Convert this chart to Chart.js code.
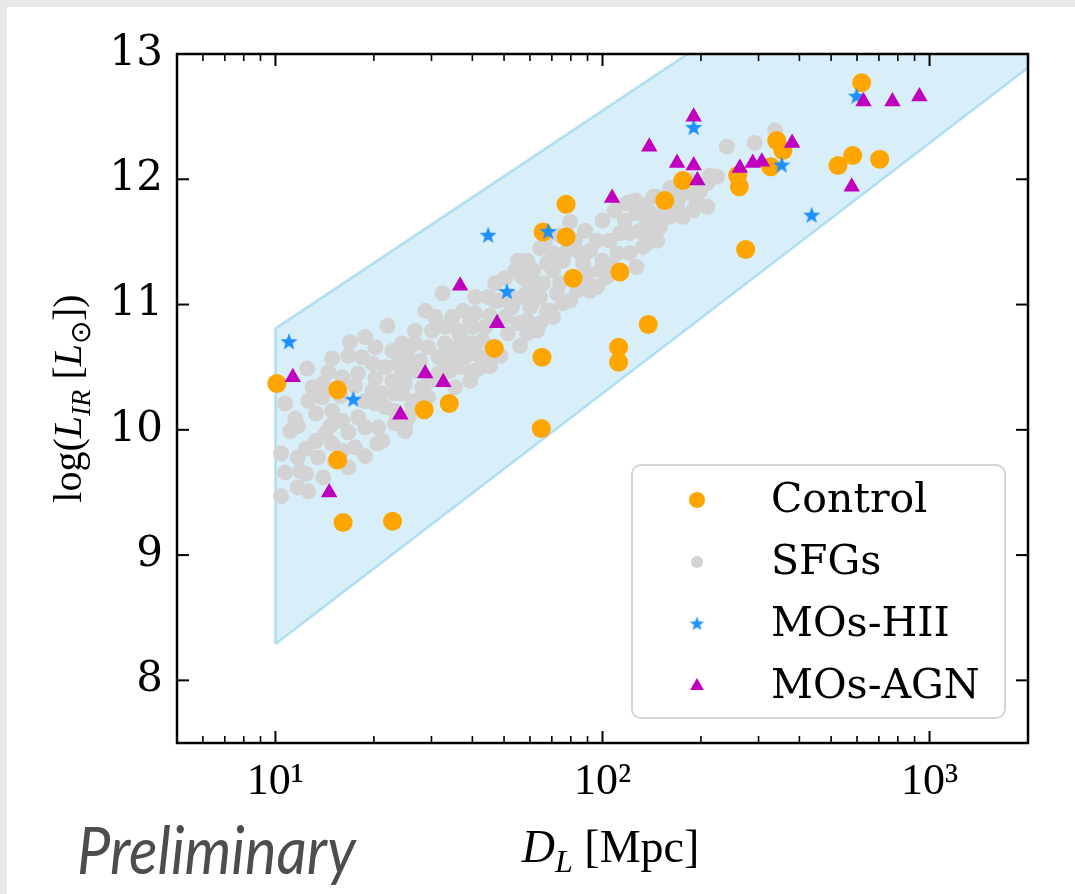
<!DOCTYPE html>
<html lang="en">
  <head>
    <meta charset="UTF-8" />
    <meta name="viewport" content="width=device-width, initial-scale=1.0" />
    <script src="https://cdn.jsdelivr.net/npm/chart.js@4.4.0/dist/chart.umd.min.js"></script>
    <title>log L_IR vs luminosity distance</title>
    <style>
      body {
        margin: 0;
        width: 1075px;
        height: 894px;
        overflow: hidden;
        background: #e6e8ea;
      }
      .slide {
        position: absolute;
        left: 7px;
        top: 7px;
        width: 1068px;
        height: 887px;
        background: #fff;
      }
      .canvas-container {
        position: absolute;
        left: 0;
        top: 0;
        width: 1068px;
        height: 887px;
      }
      .stamp {
        position: absolute;
        left: 70px;
        top: 802px;
        font-family: Lato, "Open Sans", sans-serif;
        font-style: italic;
        font-size: 66px;
        color: #4d4d4d;
        transform: scaleX(0.9);
        transform-origin: left top;
      }
    </style>
  </head>
  <body>
    <div class="slide">
      <div class="canvas-container">
        <canvas id="myChart"></canvas>
      </div>
      <div class="stamp">Preliminary</div>
    </div>

    <script>
      // luminosity distance D_L [Mpc] and log(L_IR / L_sun)
      const controlD = [10.1, 15.5, 15.5, 16.1, 22.8, 28.5, 34, 46.7, 65.3, 65, 65.8, 77.4, 77.4, 81.3, 112, 112, 113, 138, 155, 176, 259, 262, 274, 341, 356, 327, 525, 582, 704, 620];
      const controlL = [10.37, 10.32, 9.76, 9.26, 9.27, 10.16, 10.21, 10.65, 10.58, 10.01, 11.58, 11.8, 11.54, 11.21, 10.66, 10.54, 11.26, 10.84, 11.83, 11.99, 12.03, 11.94, 11.44, 12.31, 12.23, 12.1, 12.11, 12.19, 12.16, 12.77];

      const sfgD = [
        22.0, 16.9, 18.8, 20.2, 22.8, 24.4, 14.9, 16.7, 18.4, 19.8, 21.7, 23.7, 12.5, 14.5, 16.0, 17.9, 20.2, 22.8, 24.9,
        13.0, 14.0, 19.8, 21.2, 23.2, 12.6, 13.9, 20.2, 21.7, 10.7, 11.5, 11.7, 13.3, 14.9, 16.0, 17.9, 16.7, 18.8, 20.6,
        23.2, 24.9, 21.2, 14.2, 13.3, 14.9, 12.4, 16.0, 10.4, 11.7, 13.5, 16.7, 10.7, 12.4, 14.0, 11.7, 12.6, 10.4,
        32.4, 37.5, 40.8, 47.0, 44.7, 28.7, 30.8, 34.7, 40.8, 26.7, 30.1, 33.0, 36.2, 40.0, 43.8, 50.4, 52.9, 56.8, 56.8,
        59.2, 55.2, 62.2, 60.9, 55.2, 51.4, 24.4, 26.7, 29.3, 33.0, 36.2, 40.0, 42.9, 25.5, 31.5, 34.7, 38.0, 40.8, 43.8,
        24.4, 26.7, 31.5, 37.3, 40.8, 39.4, 24.9, 28.1, 35.4, 24.4, 29.3, 26.7, 25.5, 24.9, 47.0, 42.3, 20.5,
        79.6, 100, 119, 127, 143, 137, 96.2, 105, 113, 121, 130, 143, 150, 64.4, 70.6, 77.9, 85.4, 91.6, 58.8, 67.7, 75.7,
        87.2, 100, 111, 121, 133, 147, 61.4, 70.6, 89.7, 98.2, 103, 127, 58.8, 65.8, 74.2, 89.7, 96.2, 58.8, 64.4, 72.6,
        83.6, 91.6, 60.1, 67.7, 75.7, 58.8, 64.4, 70.6, 58.8, 63.1,
        240, 292, 337, 224, 209, 199, 185, 172, 161, 147, 194, 209, 189, 169, 161, 176, 150, 140, 137, 150, 133, 143, 137,
        15.8, 17.5, 18.8, 14.7, 17.5, 18.8, 11.1, 11.9, 15.2, 23.2, 26.2, 27.7, 29.7, 34.2, 33.0, 36.7, 39.4, 45.3, 48.0,
        52.2, 50.4, 54.1, 66.7, 74.2, 82.4, 88.5, 109, 117, 126, 135, 155, 166, 185, 213, 107, 79.6, 69.2, 56.0, 48.7, 45.3
      ];
      const sfgL = [
        10.83, 10.7, 10.74, 10.66, 10.63, 10.69, 10.57, 10.59, 10.58, 10.53, 10.5, 10.53, 10.49, 10.46, 10.42, 10.45, 10.41, 10.39, 10.45,
        10.34, 10.37, 10.31, 10.29, 10.29, 10.23, 10.26, 10.21, 10.18, 10.21, 10.09, 10.03, 10.13, 10.15, 10.07, 10.1, 9.98, 10.02, 10.02,
        10.05, 9.99, 9.91, 9.97, 9.91, 9.89, 9.85, 9.83, 9.81, 9.78, 9.78, 9.7, 9.66, 9.65, 9.62, 9.54, 9.51, 9.47,
        11.09, 10.95, 11.06, 11.17, 11.06, 10.95, 10.9, 10.9, 10.93, 10.79, 10.79, 10.82, 10.79, 10.82, 10.82, 10.9, 10.98, 11.06, 11.22,
        11.33, 11.35, 11.17, 11.01, 10.85, 10.77, 10.66, 10.69, 10.66, 10.69, 10.66, 10.69, 10.71, 10.58, 10.58, 10.58, 10.58, 10.61, 10.58,
        10.47, 10.47, 10.45, 10.5, 10.47, 10.39, 10.37, 10.34, 10.34, 10.29, 10.26, 10.23, 10.1, 10.02, 11.03, 10.5, 9.89,
        11.66, 11.67, 11.81, 11.73, 11.86, 11.67, 11.51, 11.51, 11.57, 11.57, 11.59, 11.62, 11.67, 11.45, 11.41, 11.43, 11.41, 11.43, 11.35, 11.33, 11.35,
        11.33, 11.35, 11.41, 11.41, 11.46, 11.51, 11.27, 11.27, 11.25, 11.27, 11.22, 11.3, 11.19, 11.17, 11.17, 11.17, 11.14, 11.09, 11.06, 11.09,
        11.11, 11.11, 10.98, 10.95, 11.01, 10.87, 10.85, 10.9, 10.77, 10.79,
        12.26, 12.29, 12.39, 12.02, 11.97, 11.91, 11.89, 11.86, 11.93, 11.86, 11.83, 11.78, 11.75, 11.78, 11.7, 11.7, 11.7, 11.73, 11.65, 11.62, 11.57, 11.57, 11.49,
        10.27, 10.35, 10.23, 10.03, 9.86, 9.79, 9.99, 9.67, 9.75, 10.15, 10.19, 10.55, 10.39, 10.47, 10.55, 10.75, 10.86, 10.91, 11.03,
        11.07, 11.21, 11.27, 11.51, 11.55, 11.51, 11.59, 11.75, 11.67, 11.83, 11.79, 11.79, 11.87, 11.99, 12.03, 11.31, 11.03, 10.95, 10.67, 10.59, 10.51
      ];

      const hiiD = [11.0, 17.3, 44.7, 51, 68.2, 190, 353, 436, 598];
      const hiiL = [10.7, 10.24, 11.55, 11.1, 11.58, 12.41, 12.11, 11.71, 12.66];

      const agnD = [11.3, 14.6, 24.1, 28.7, 32.6, 36.7, 47.6, 107, 139, 169, 190, 190, 195, 263, 288, 307, 380, 578, 628, 770, 931];
      const agnL = [10.42, 9.5, 10.12, 10.45, 10.38, 11.15, 10.85, 11.85, 12.26, 12.13, 12.5, 12.11, 11.99, 12.09, 12.13, 12.14, 12.29, 11.94, 12.62, 12.62, 12.66];

      // selection region (closed outline)
      const bandD = [10, 10, 2000, 2000, 10];
      const bandL = [8.29, 10.81, 14.81, 12.89, 8.29];

      const xMajorTicks = [10, 100, 1000];
      const xMinorTicks = [6, 7, 8, 9, 20, 30, 40, 50, 60, 70, 80, 90, 200, 300, 400, 500, 600, 700, 800, 900];
      const xTickLabels = ["10¹", "10²", "10³"];
      const yTicks = [8, 9, 10, 11, 12, 13];

      const pts = (xs, ys) => xs.map((v, i) => ({ x: v, y: ys[i] }));

      function makeStar(r, color) {
        const c = document.createElement("canvas");
        const s = Math.ceil(r * 2 + 2);
        c.width = s;
        c.height = s;
        const g = c.getContext("2d");
        g.fillStyle = color;
        g.beginPath();
        for (let i = 0; i < 10; i++) {
          const rr = i % 2 ? r * 0.42 : r;
          const a = -Math.PI / 2 + (i * Math.PI) / 5;
          g.lineTo(s / 2 + rr * Math.cos(a), s / 2 + rr * Math.sin(a));
        }
        g.closePath();
        g.fill();
        return c;
      }
      const starImg = makeStar(9, "#1e90ff");
      const starSmall = makeStar(7.5, "#1e90ff");

      const serif = "'DejaVu Serif', serif";
      const mathSerif = "'Liberation Serif', 'Times New Roman', serif";

      // draw text runs with italics and subscripts
      function richWidth(ctx, parts, size) {
        let w = 0;
        parts.forEach((p) => {
          const fs = p.sub ? size * 0.7 : size;
          ctx.font = (p.it ? "italic " : "") + fs + "px " + mathSerif;
          w += ctx.measureText(p.t).width;
        });
        return w;
      }
      function drawRich(ctx, parts, x, y, size) {
        let cx = x;
        parts.forEach((p) => {
          const fs = p.sub ? size * 0.7 : size;
          ctx.font = (p.it ? "italic " : "") + fs + "px " + mathSerif;
          ctx.fillText(p.t, cx, p.sub ? y + size * 0.22 : y);
          cx += ctx.measureText(p.t).width;
        });
      }

      const titles = {
        id: "titles",
        afterDraw(chart) {
          const { ctx, chartArea: a } = chart;
          ctx.save();
          ctx.fillStyle = "#000";
          ctx.textBaseline = "alphabetic";
          const xt = [
            { t: "D", it: true },
            { t: "L", it: true, sub: true },
            { t: " [Mpc]" },
          ];
          const xs = 46;
          const xw = richWidth(ctx, xt, xs);
          drawRich(ctx, xt, (a.left + a.right) / 2 + 8 - xw / 2, 855, xs);

          const yt = [
            { t: "log(" },
            { t: "L", it: true },
            { t: "IR", it: true, sub: true },
            { t: " [" },
            { t: "L", it: true },
            { t: "⊙", sub: true },
            { t: "])" },
          ];
          const ys = 40;
          const yw = richWidth(ctx, yt, ys);
          ctx.translate(74, (a.top + a.bottom) / 2);
          ctx.rotate(-Math.PI / 2);
          drawRich(ctx, yt, -yw / 2, 0, ys);
          ctx.restore();
        },
      };

      const frameTicks = {
        id: "frameTicks",
        afterDatasetsDraw(chart) {
          const { ctx, chartArea: a, scales } = chart;
          const x = scales.x;
          const y = scales.y;
          ctx.save();
          ctx.strokeStyle = "#000";
          ctx.lineWidth = 2;
          const seg = (x0, y0, x1, y1) => {
            ctx.beginPath();
            ctx.moveTo(x0, y0);
            ctx.lineTo(x1, y1);
            ctx.stroke();
          };
          xMajorTicks.forEach((v) => {
            const p = x.getPixelForValue(v);
            seg(p, a.bottom, p, a.bottom - 12);
            seg(p, a.top, p, a.top + 12);
          });
          ctx.lineWidth = 1.6;
          xMinorTicks.forEach((v) => {
            const p = x.getPixelForValue(v);
            seg(p, a.bottom, p, a.bottom - 7);
            seg(p, a.top, p, a.top + 7);
          });
          ctx.lineWidth = 2;
          yTicks.forEach((v) => {
            const p = y.getPixelForValue(v);
            seg(a.left, p, a.left + 12, p);
            seg(a.right, p, a.right - 12, p);
          });
          ctx.lineWidth = 2.5;
          ctx.strokeRect(a.left, a.top, a.right - a.left, a.bottom - a.top);
          ctx.restore();
        },
      };

      const boxLegend = {
        id: "boxLegend",
        afterDraw(chart) {
          const { ctx, chartArea: a } = chart;
          const w = 373;
          const h = 253;
          const left = a.right - 23 - w;
          const top = a.bottom - 25 - h;
          ctx.save();
          ctx.fillStyle = "rgba(255,255,255,0.85)";
          ctx.strokeStyle = "#d4d4d4";
          ctx.lineWidth = 2;
          ctx.beginPath();
          ctx.roundRect(left, top, w, h, 9);
          ctx.fill();
          ctx.stroke();
          const items = chart.data.datasets.filter((d) => d.label);
          items.sort((p, q) => p.legendRank - q.legendRank);
          items.forEach((d, i) => {
            const cy = top + 35 + i * 62;
            const cx = left + 65;
            const r = d.legendRadius;
            ctx.fillStyle = d.backgroundColor;
            if (d.pointStyle === "circle") {
              ctx.beginPath();
              ctx.arc(cx, cy, r, 0, Math.PI * 2);
              ctx.fill();
            } else if (d.pointStyle === "triangle") {
              ctx.beginPath();
              ctx.moveTo(cx, cy - r);
              ctx.lineTo(cx + r * 0.866, cy + r / 2);
              ctx.lineTo(cx - r * 0.866, cy + r / 2);
              ctx.closePath();
              ctx.fill();
            } else {
              ctx.drawImage(starSmall, cx - starSmall.width / 2, cy - starSmall.height / 2);
            }
            ctx.fillStyle = "#000";
            ctx.font = "41px " + serif;
            ctx.textBaseline = "middle";
            ctx.fillText(d.label, left + 139, cy + 1);
          });
          ctx.restore();
        },
      };

      const ctx = document.getElementById("myChart").getContext("2d");
      const myChart = new Chart(ctx, {
        type: "scatter",
        data: {
          datasets: [
            {
              label: "MOs-AGN",
              legendRank: 3,
              legendRadius: 8,
              data: pts(agnD, agnL),
              pointStyle: "triangle",
              backgroundColor: "#bf00bf",
              borderWidth: 0,
              pointRadius: 9.5,
              order: 1,
            },
            {
              label: "MOs-HII",
              legendRank: 2,
              legendRadius: 7,
              data: pts(hiiD, hiiL),
              pointStyle: starImg,
              backgroundColor: "#1e90ff",
              borderWidth: 0,
              order: 2,
            },
            {
              label: "Control",
              legendRank: 0,
              legendRadius: 8,
              data: pts(controlD, controlL),
              pointStyle: "circle",
              backgroundColor: "#ffa500",
              borderWidth: 0,
              pointRadius: 9.5,
              order: 3,
            },
            {
              label: "SFGs",
              legendRank: 1,
              legendRadius: 6,
              data: pts(sfgD, sfgL),
              pointStyle: "circle",
              backgroundColor: "#d3d3d3",
              borderWidth: 0,
              pointRadius: 8,
              order: 4,
            },
            {
              data: pts(bandD, bandL),
              showLine: true,
              fill: "shape",
              backgroundColor: "rgba(135, 206, 235, 0.32)",
              borderColor: "rgba(135, 206, 235, 0.6)",
              borderWidth: 2.5,
              pointRadius: 0,
              order: 5,
            },
          ],
        },
        options: {
          responsive: true,
          maintainAspectRatio: false,
          animation: false,
          events: [],
          layout: { padding: { top: 47, right: 47, left: 0, bottom: 0 } },
          plugins: {
            legend: { display: false },
            tooltip: { enabled: false },
          },
          scales: {
            x: {
              type: "logarithmic",
              min: 5,
              max: 2000,
              grid: { display: false, drawTicks: false },
              border: { display: false },
              afterBuildTicks: (s) => {
                s.ticks = xMajorTicks.map((v) => ({ value: v }));
              },
              afterFit: (s) => {
                s.height = 151;
              },
              ticks: {
                padding: 13,
                color: "#000",
                font: { family: mathSerif, size: 44 },
                autoSkip: false,
                maxRotation: 0,
                callback: (v) => xTickLabels[xMajorTicks.indexOf(v)],
              },
            },
            y: {
              min: 7.5,
              max: 13,
              grid: { display: false, drawTicks: false },
              border: { display: false },
              afterBuildTicks: (s) => {
                s.ticks = yTicks.map((v) => ({ value: v }));
              },
              afterFit: (s) => {
                s.width = 170;
              },
              ticks: {
                padding: 14,
                color: "#000",
                font: { family: serif, size: 42 },
              },
            },
          },
        },
        plugins: [frameTicks, boxLegend, titles],
      });
    </script>
  </body>
</html>
